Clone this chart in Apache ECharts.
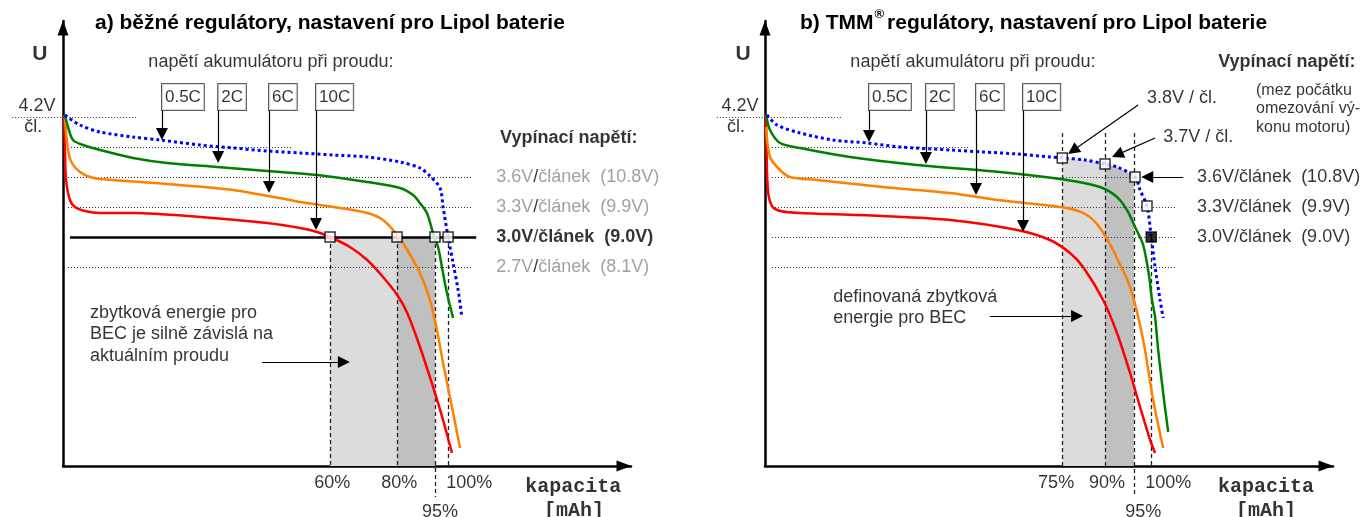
<!DOCTYPE html>
<html><head><meta charset="utf-8">
<script src="https://cdn.jsdelivr.net/npm/echarts@6/dist/echarts.min.js"></script>
<style>html,body{margin:0;padding:0;background:#fff}#c{width:1371px;height:517px}</style>
</head><body><div id="c"></div>
<script>
// x: schematic capacity position (100 = the 100 % mark), y: cell voltage [V]
const rates = ['0.5C', '2C', '6C', '10C'];

// ---------- panel a) ----------
const blueA   = [[0.5,4.22],[4.4,4.12],[9.6,4.05],[18.2,4.00],[25.2,3.97],[35.6,3.92],[44.2,3.89],[53.0,3.86],[61.6,3.84],[70.1,3.82],[79.0,3.80],[87.5,3.75],[92.7,3.69],[95.3,3.61],[97.9,3.49],[98.7,3.30],[100.0,3.00],[101.3,2.74],[102.6,2.47],[103.6,2.19]];
const greenA  = [[0.5,4.22],[1.3,4.10],[2.6,3.97],[5.2,3.92],[9.6,3.87],[18.2,3.79],[27.0,3.74],[40.0,3.70],[53.0,3.66],[66.0,3.62],[79.0,3.55],[87.5,3.49],[90.9,3.42],[92.7,3.34],[94.5,3.24],[96.1,3.04],[97.4,2.90],[98.4,2.70],[99.7,2.44],[101.3,2.19]];
const orangeA = [[0.5,4.19],[1.3,3.87],[2.3,3.74],[4.4,3.65],[7.0,3.60],[9.6,3.58],[27.0,3.53],[44.2,3.47],[61.6,3.35],[70.1,3.30],[79.0,3.24],[83.1,3.17],[86.8,3.02],[89.4,2.87],[92.7,2.64],[95.3,2.37],[97.1,2.07],[98.7,1.74],[101.0,1.30],[103.1,0.89]];
const redA    = [[0.3,4.22],[0.5,3.87],[0.8,3.57],[1.8,3.37],[3.1,3.30],[5.7,3.26],[9.6,3.24],[18.2,3.24],[35.6,3.20],[53.0,3.14],[61.6,3.09],[66.0,3.05],[69.4,3.00],[74.5,2.90],[79.0,2.77],[83.1,2.60],[86.8,2.42],[89.4,2.24],[92.7,1.90],[96.1,1.50],[98.7,1.17],[101.0,0.84]];
const rateBoxXA = [25.7, 40.3, 53.5, 65.7];
const rateTipYA = [3.97, 3.74, 3.44, 3.07];
const squaresA = [[69.35,3.0],[86.75,3.0],[96.6,3.0],[100.0,3.0]];
const dashXA = [69.35, 86.75, 96.6, 100.0];
const dashTopA = [3.0, 3.0, 3.0, 3.0];
const dashBottomA = [0.71, 0.71, 0.40, 0.71];
const pctLabelsA = ['60%', '80%', '95%', '100%'];
const pctLabelXA = [69.9, 87.3, 97.9, 105.5];
const pctLabelYA = [0.54, 0.54, 0.25, 0.54];
const guideVA = [4.2, 3.9, 3.6, 3.3, 2.7];
const guideX0A = [-13.2, 1.3, 1.3, 1.3, 1.3];
const guideX1A = [19.5, 59.5, 106.5, 106.5, 106.5];
const cutLineA = [3.0, 1.8, 107.3];
const cutVoltsA = ['3.6V', '3.3V', '3.0V', '2.7V'];
const cutTextA = ['článek  (10.8V)', 'článek  (9.9V)', 'článek  (9.0V)', 'článek  (8.1V)'];
const cutYA = [3.6, 3.3, 3.0, 2.7];
const shadeLightA = [[69.35,3.0],[86.75,3.0]];
const shadeDarkA  = [[86.75,3.0],[96.6,3.0]];
const noteA = 'zbytková energie pro\nBEC je silně závislá na\naktuálním proudu';
const noteArrowA = [51.7, 1.75, 74.5, 1.75];

// ---------- panel b) ----------
const blueB   = [[0.5,4.22],[3.1,4.12],[9.1,4.04],[17.7,3.97],[26.5,3.94],[35.1,3.90],[48.1,3.87],[56.6,3.85],[65.5,3.83],[74.0,3.80],[77.2,3.79],[83.1,3.77],[88.3,3.73],[91.4,3.70],[96.1,3.60],[97.4,3.47],[99.2,3.31],[100.3,3.00],[101.3,2.70],[102.6,2.37],[103.4,2.19]];
const greenB  = [[0.3,4.22],[1.3,4.07],[3.9,3.94],[9.1,3.89],[22.1,3.80],[39.5,3.72],[61.0,3.65],[78.4,3.57],[87.0,3.50],[91.4,3.40],[94.0,3.27],[96.1,3.10],[98.2,2.92],[99.7,2.62],[100.5,2.37],[101.3,2.20],[102.1,1.87],[103.4,1.44],[104.7,1.05]];
const orangeB = [[0.3,4.10],[1.3,3.80],[3.9,3.67],[6.5,3.60],[13.5,3.57],[30.6,3.50],[48.1,3.44],[60.3,3.37],[78.4,3.29],[83.6,3.22],[87.0,3.09],[90.4,2.87],[92.2,2.72],[94.0,2.58],[95.6,2.40],[98.2,1.97],[100.8,1.37],[103.4,0.89]];
const redB    = [[0.2,4.22],[0.4,3.87],[0.6,3.57],[1.0,3.40],[2.0,3.30],[4.0,3.26],[9.1,3.24],[30.6,3.21],[48.1,3.17],[65.5,3.07],[74.0,2.97],[79.2,2.84],[82.6,2.70],[87.8,2.37],[91.4,2.04],[94.8,1.64],[97.4,1.30],[100.0,0.97],[101.3,0.84]];
const rateBoxXB = [27.0, 41.8, 54.8, 67.0];
const rateTipYB = [3.95, 3.73, 3.42, 3.05];
const squaresB = [[77.2,3.79],[88.3,3.73],[96.1,3.60],[99.2,3.31]];
const squaresFilledB = [[100.3,3.0]];
const dashXB = [77.2, 88.3, 95.8, 100.3];
const dashTopB = [4.04, 4.04, 4.04, 3.0];
const dashBottomB = [0.71, 0.71, 0.40, 0.71];
const pctLabelsB = ['75%', '90%', '95%', '100%'];
const pctLabelXB = [75.6, 88.8, 98.2, 104.7];
const pctLabelYB = [0.54, 0.54, 0.25, 0.54];
const guideVB = [4.2, 3.9, 3.6, 3.3, 3.0, 2.7];
const guideX0B = [-12.5, 1.8, 1.8, 1.8, 1.8, 1.8];
const guideX1B = [19.7, 53.2, 96.6, 107.0, 107.0, 107.0];
const cutVoltsB = ['3.6V', '3.3V', '3.0V'];
const cutTextB = ['článek  (10.8V)', 'článek  (9.9V)', 'článek  (9.0V)'];
const cutYB = [3.6, 3.3, 3.0];
const shadeLightB = [[77.2,3.79],[83.1,3.77],[88.3,3.73]];
const shadeDarkB  = [[88.3,3.73],[91.4,3.70],[95.8,3.61]];
const noteB = 'definovaná zbytková\nenergie pro BEC';
const noteArrowB = [58.4, 2.21, 82.6, 2.21];
const limitTexts = ['3.8V / čl.', '3.7V / čl.'];
const limitTextPos = [[99.2, 4.39], [103.4, 4.00]];
const limitArrows = [[96.9, 4.32, 78.7, 3.83], [101.3, 3.99, 90.1, 3.80], [108.6, 3.6, 97.7, 3.6]];

// ---------- layout ----------
const X_MAX = 147.5, Y_MIN = 0.71, Y_MAX = 5.16;
const GRID_W = 568, GRID_H = 445, GRID_TOP = 21;
const gridLefts = [63, 765];
const FF = '"Liberation Sans", Arial, Helvetica, sans-serif';
const MONO = '"Liberation Mono", "Courier New", monospace';
const KX = GRID_W / X_MAX, KY = GRID_H / (Y_MAX - Y_MIN);
const ARROW = [9, 12];

function arrowItem(a) {
  // pull the end point back so the triangle tip lands on the given tip
  const dxp = (a[2] - a[0]) * KX, dyp = (a[3] - a[1]) * KY;
  const len = Math.hypot(dxp, dyp), back = ARROW[1] / 2;
  return { coords: [[a[0], a[1]], [a[2] - dxp / len * back / KX, a[3] - dyp / len * back / KY]] };
}
function txt(x, y, text, o) {
  return { value: [x, y], label: Object.assign({ show: true, position: 'inside', formatter: text,
    fontFamily: FF, fontSize: 18, color: '#000', align: 'left', verticalAlign: 'middle' }, o || {}) };
}
function seg(x0, y0, x1, y1, style) {
  return { coords: [[x0, y0], [x1, y1]], lineStyle: Object.assign({ color: '#222', width: 1, opacity: 1, curveness: 0 }, style) };
}

function buildPanel(gi, p) {
  const S = [];
  const common = { xAxisIndex: gi, yAxisIndex: gi, animation: false, silent: true };
  [[p.shadeLight, '#dcdcdc'], [p.shadeDark, '#c0c0c0']].forEach(([pts, col]) => S.push(Object.assign({}, common, {
    type: 'line', data: pts, symbol: 'none', lineStyle: { width: 0, opacity: 0 },
    areaStyle: { color: col, opacity: 1, origin: 'start' }, z: 1 })));
  const segs = [];
  p.guideV.forEach((v, i) => segs.push(seg(p.guideX0[i], v, p.guideX1[i], v, { type: [1, 2], color: '#333' })));
  if (p.cutLine) segs.push(seg(p.cutLine[1], p.cutLine[0], p.cutLine[2], p.cutLine[0], { type: 'solid', color: '#000', width: 2.5 }));
  p.dashX.forEach((x, i) => segs.push(seg(x, p.dashTop[i], x, p.dashBottom[i], { type: [4, 3], color: '#222', width: 1.3 })));
  S.push(Object.assign({}, common, { type: 'lines', coordinateSystem: 'cartesian2d', clip: false, data: segs, z: 2 }));
  p.curves.forEach(c => S.push(Object.assign({}, common, {
    type: 'line', data: c.data, symbol: 'none', smooth: 0.3, clip: false,
    lineStyle: { color: c.color, width: c.width, type: c.type, cap: 'butt' }, z: 3 })));
  const arrows = p.arrows.map(arrowItem);
  S.push(Object.assign({}, common, { type: 'lines', coordinateSystem: 'cartesian2d', clip: false,
    symbol: ['none', 'triangle'], symbolSize: ARROW, data: arrows,
    lineStyle: { color: '#000', width: 1.2, opacity: 1, curveness: 0 }, z: 4 }));
  S.push(Object.assign({}, common, { type: 'scatter', symbol: 'rect', symbolSize: 10, data: p.squares,
    itemStyle: { color: '#fff', borderColor: '#000', borderWidth: 1.5 }, z: 5 }));
  if (p.squaresFilled) S.push(Object.assign({}, common, { type: 'scatter', symbol: 'rect', symbolSize: 10, data: p.squaresFilled,
    itemStyle: { color: '#000', borderColor: '#000', borderWidth: 1.5 }, z: 5 }));
  S.push(Object.assign({}, common, { type: 'scatter', clip: false, symbolSize: 1,
    itemStyle: { color: 'rgba(0,0,0,0)' }, data: p.labels, z: 6 }));
  return S;
}

function commonLabels(p, uX, v42X, clX) {
  const L = [];
  L.push(txt(uX, 4.83, 'U', { fontWeight: 'bold', fontSize: 21, align: 'center' }));
  L.push(txt(v42X, 4.31, '4.2V', { align: 'center' }));
  L.push(txt(clX, 4.10, 'čl.', { align: 'center' }));
  L.push(txt(54.0, 4.75, 'napětí akumulátoru při proudu:', { align: 'center' }));
  rates.forEach((r, i) => L.push(txt(p.boxX[i], 4.53, r, { verticalAlign: 'top', fontSize: 17, lineHeight: 19,
    padding: [4, 3, 3, 3], borderColor: '#333', borderWidth: 1, backgroundColor: '#fff' })));
  p.pctLabels.forEach((t, i) => L.push(txt(p.pctX[i], p.pctY[i], t, { align: 'center' })));
  return L;
}

const rich = {
  g: { color: '#8a8a8a', fontSize: 18, fontFamily: FF },
  k: { color: '#000', fontSize: 18, fontFamily: FF },
  b: { color: '#000', fontSize: 18, fontFamily: FF, fontWeight: 'bold' }
};

// panel a labels
const pA = { boxX: rateBoxXA, pctLabels: pctLabelsA, pctX: pctLabelXA, pctY: pctLabelYA };
const labelsA = commonLabels(pA, -6.0, -6.75, -7.7);
labelsA.push(txt(113.5, 3.99, 'Vypínací napětí:', { fontWeight: 'bold' }));
cutVoltsA.forEach((v, i) => {
  const st = i === 2 ? 'b' : 'g';
  labelsA.push(txt(112.5, cutYA[i], '{' + st + '|' + v + '}{k|/}{' + st + '|' + cutTextA[i] + '}', { rich: rich }));
});
labelsA.push(txt(7.0, 2.35, noteA, { verticalAlign: 'top', lineHeight: 21.5 }));
labelsA.push(txt(132.5, 0.50, 'kapacita', { fontFamily: MONO, fontWeight: 'bold', fontSize: 20, align: 'center' }));
labelsA.push(txt(132.7, 0.26, '[mAh]', { fontFamily: MONO, fontWeight: 'bold', fontSize: 20, align: 'center' }));

// panel b labels
const pB = { boxX: rateBoxXB, pctLabels: pctLabelsB, pctX: pctLabelXB, pctY: pctLabelYB };
const labelsB = commonLabels(pB, -5.7, -6.5, -7.5);
labelsB.push(txt(117.7, 4.75, 'Vypínací napětí:', { fontWeight: 'bold' }));
labelsB.push(txt(127.5, 4.56, '(mez počátku\nomezování vý-\nkonu motoru)', { verticalAlign: 'top', fontSize: 16, lineHeight: 18.5 }));
limitTexts.forEach((t, i) => labelsB.push(txt(limitTextPos[i][0], limitTextPos[i][1], t)));
cutVoltsB.forEach((v, i) => labelsB.push(txt(112.2, cutYB[i], '{k|' + v + '}{k|/}{k|' + cutTextB[i] + '}', { rich: rich })));
labelsB.push(txt(17.7, 2.50, noteB, { verticalAlign: 'top', lineHeight: 20.5 }));
labelsB.push(txt(130.1, 0.50, 'kapacita', { fontFamily: MONO, fontWeight: 'bold', fontSize: 20, align: 'center' }));
labelsB.push(txt(130.1, 0.26, '[mAh]', { fontFamily: MONO, fontWeight: 'bold', fontSize: 20, align: 'center' }));

function curves(b, g, o, r) {
  return [
    { data: r, color: '#ff0000', width: 2.5, type: 'solid' },
    { data: o, color: '#ff7f00', width: 2.5, type: 'solid' },
    { data: g, color: '#008000', width: 2.5, type: 'solid' },
    { data: b, color: '#0000ff', width: 3, type: [3, 3] }
  ];
}

const panelA = {
  shadeLight: shadeLightA, shadeDark: shadeDarkA, guideV: guideVA, guideX0: guideX0A, guideX1: guideX1A,
  cutLine: cutLineA, dashX: dashXA, dashTop: dashTopA, dashBottom: dashBottomA,
  curves: curves(blueA, greenA, orangeA, redA),
  arrows: rateBoxXA.map((x, i) => [x, 4.53, x, rateTipYA[i]]).concat([noteArrowA]),
  squares: squaresA, labels: labelsA
};
const panelB = {
  shadeLight: shadeLightB, shadeDark: shadeDarkB, guideV: guideVB, guideX0: guideX0B, guideX1: guideX1B,
  cutLine: null, dashX: dashXB, dashTop: dashTopB, dashBottom: dashBottomB,
  curves: curves(blueB, greenB, orangeB, redB),
  arrows: rateBoxXB.map((x, i) => [x, 4.53, x, rateTipYB[i]]).concat([noteArrowB]).concat(limitArrows),
  squares: squaresB, squaresFilled: squaresFilledB, labels: labelsB
};

const titleRich = {
  n: { fontSize: 21, fontWeight: 'bold', fontFamily: FF, color: '#000', lineHeight: 30 },
  s: { fontSize: 13, fontWeight: 'bold', fontFamily: FF, color: '#000', lineHeight: 13, verticalAlign: 'top', padding: [0, 3, 0, 1] }
};

const axisLineStyle = { show: true, onZero: false, symbol: ['none', 'triangle'], symbolSize: [11, 15], symbolOffset: [0, -7],
  lineStyle: { color: '#000', width: 2.5 } };

const chart = echarts.init(document.getElementById('c'), null, { renderer: 'canvas' });
chart.setOption({
  backgroundColor: '#fff',
  animation: false,
  title: [
    { text: '{n|a) běžné regulátory, nastavení pro Lipol baterie}', left: 95, top: 8, padding: 0, textStyle: { rich: titleRich } },
    { text: '{n|b) TMM}{s|®}{n|regulátory, nastavení pro Lipol baterie}', left: 800, top: 8, padding: 0, textStyle: { rich: titleRich } }
  ],
  grid: gridLefts.map(l => ({ left: l, top: GRID_TOP, width: GRID_W, height: GRID_H })),
  xAxis: gridLefts.map((_, i) => ({ gridIndex: i, type: 'value', min: 0, max: X_MAX,
    axisLabel: { show: false }, axisTick: { show: false }, splitLine: { show: false }, axisLine: axisLineStyle })),
  yAxis: gridLefts.map((_, i) => ({ gridIndex: i, type: 'value', min: Y_MIN, max: Y_MAX,
    axisLabel: { show: false }, axisTick: { show: false }, splitLine: { show: false }, axisLine: axisLineStyle })),
  series: buildPanel(0, panelA).concat(buildPanel(1, panelB))
});
</script>
</body></html>
